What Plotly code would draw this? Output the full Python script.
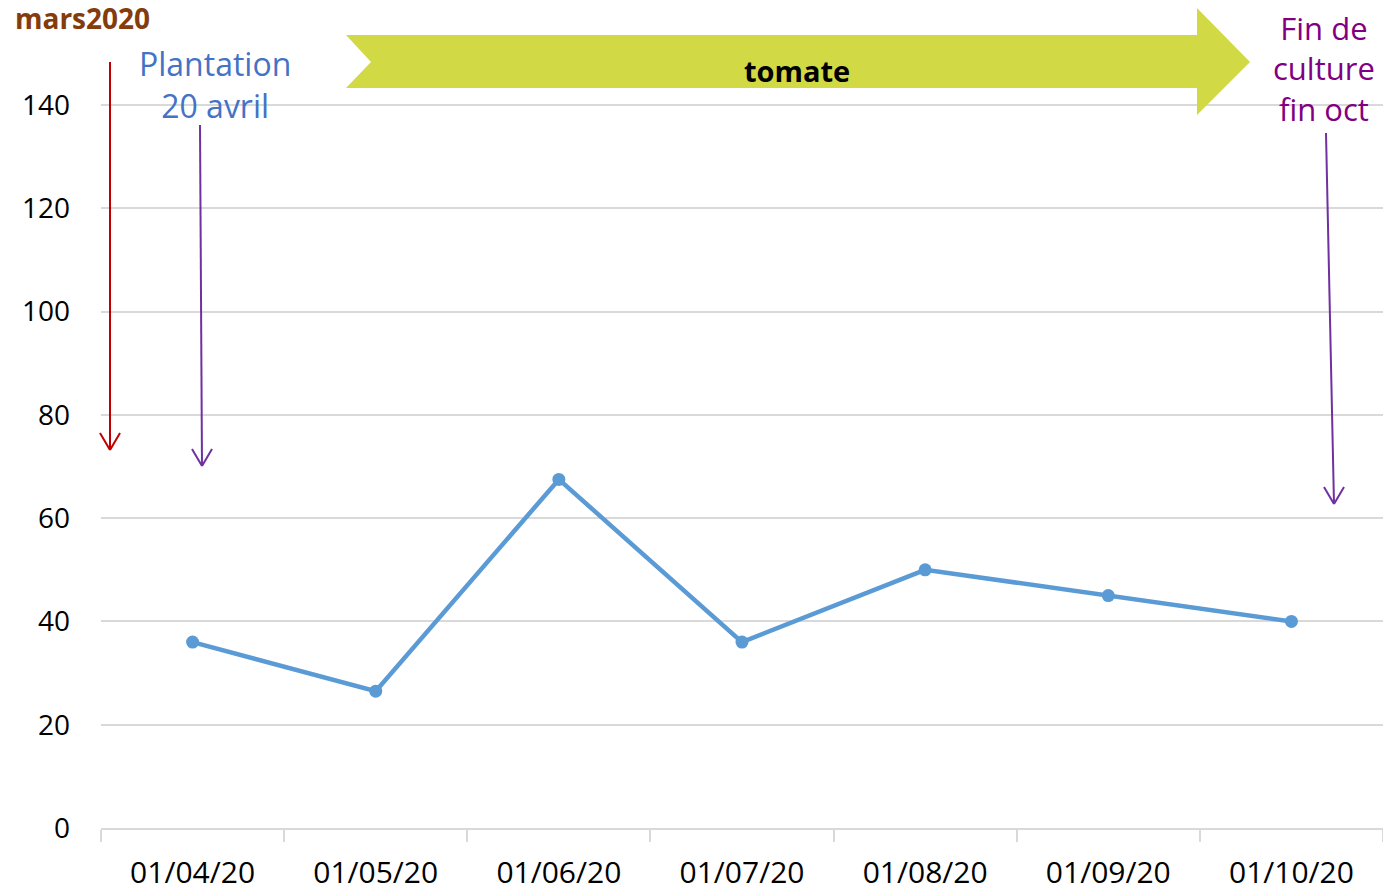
import plotly.graph_objects as go

dates = ["01/04/20", "01/05/20", "01/06/20", "01/07/20", "01/08/20", "01/09/20", "01/10/20"]
values = [36, 26.5, 67.5, 36, 50, 45, 40]
y_ticks = [0, 20, 40, 60, 80, 100, 120, 140]

W, H = 1383, 893
L, R, T = 101, 0, 0
PH = 828 - T
B = H - T - PH
PW = W - L - R

def px(x):
    return (x - L) / PW

def py(y):
    return (828 - y) / PH

FONT = "Open Sans"

fig = go.Figure()
fig.add_trace(go.Scatter(
    x=dates, y=values, mode="lines+markers",
    line=dict(color="#5B9BD5", width=4.5),
    marker=dict(color="#5B9BD5", size=13),
    showlegend=False,
))

shapes = []
path = "M {} {} L {} {} L {} {} L {} {} L {} {} L {} {} L {} {} L {} {} Z".format(
    px(346), py(35), px(1197), py(35), px(1197), py(8), px(1250), py(62),
    px(1197), py(115), px(1197), py(88), px(346), py(88), px(371), py(62))
shapes.append(dict(type="path", xref="paper", yref="paper", path=path,
                   fillcolor="#D1D945", line=dict(width=0), layer="above"))

def arrow(x0, y0, x1, y1, color):
    shapes.append(dict(type="line", xref="paper", yref="paper",
                       x0=px(x0), y0=py(y0), x1=px(x1), y1=py(y1),
                       line=dict(color=color, width=2)))
    for dx in (-10, 10):
        shapes.append(dict(type="line", xref="paper", yref="paper",
                           x0=px(x1 + dx), y0=py(y1 - 17), x1=px(x1), y1=py(y1),
                           line=dict(color=color, width=2)))

arrow(110, 62, 110, 450, "#C00000")
arrow(200, 125, 202, 466, "#7030A0")
arrow(1326, 133, 1334, 504, "#7030A0")

def note(text, x, y, size, color):
    return dict(text=text, x=px(x), y=py(y), xref="paper", yref="paper",
                xanchor="center", yanchor="middle", showarrow=False,
                font=dict(family=FONT, size=size, color=color))

annotations = [
    note("<b>tomate</b>", 797, 70, 29, "#000000"),
    note("Plantation<br>20 avril", 215, 84, 32, "#4472C4"),
    note("Fin de<br>culture<br>fin oct", 1324, 68, 31, "#800080"),
    note("<b>mars2020</b>", 82, 18, 28, "#843C0C"),
]

fig.update_layout(
    width=W, height=H,
    margin=dict(l=L, r=R, t=T, b=B, pad=0),
    paper_bgcolor="white", plot_bgcolor="white",
    shapes=shapes, annotations=annotations,
    font=dict(family=FONT, size=26, color="#000000"),
    xaxis=dict(
        type="category", range=[-0.5, 6.5],
        showgrid=False, showline=True, linecolor="#D9D9D9", linewidth=2,
        ticks="outside", tickson="boundaries", ticklen=12, tickcolor="#D9D9D9", tickwidth=2,
        tickfont=dict(family=FONT, size=30, color="#000000"),
        ticklabelstandoff=17,
    ),
    yaxis=dict(
        range=[0, PH / (723 / 140)],
        tickvals=y_ticks, showgrid=True, gridcolor="#D9D9D9", gridwidth=2,
        zeroline=False, showline=False, ticks="",
        tickfont=dict(family=FONT, size=28, color="#000000"),
        ticklabelstandoff=30,
    ),
)

fig.write_html(
    "out.html",
    config={"displayModeBar": False},
    post_script="document.body.style.margin='0px'; document.body.style.overflow='hidden';",
)
